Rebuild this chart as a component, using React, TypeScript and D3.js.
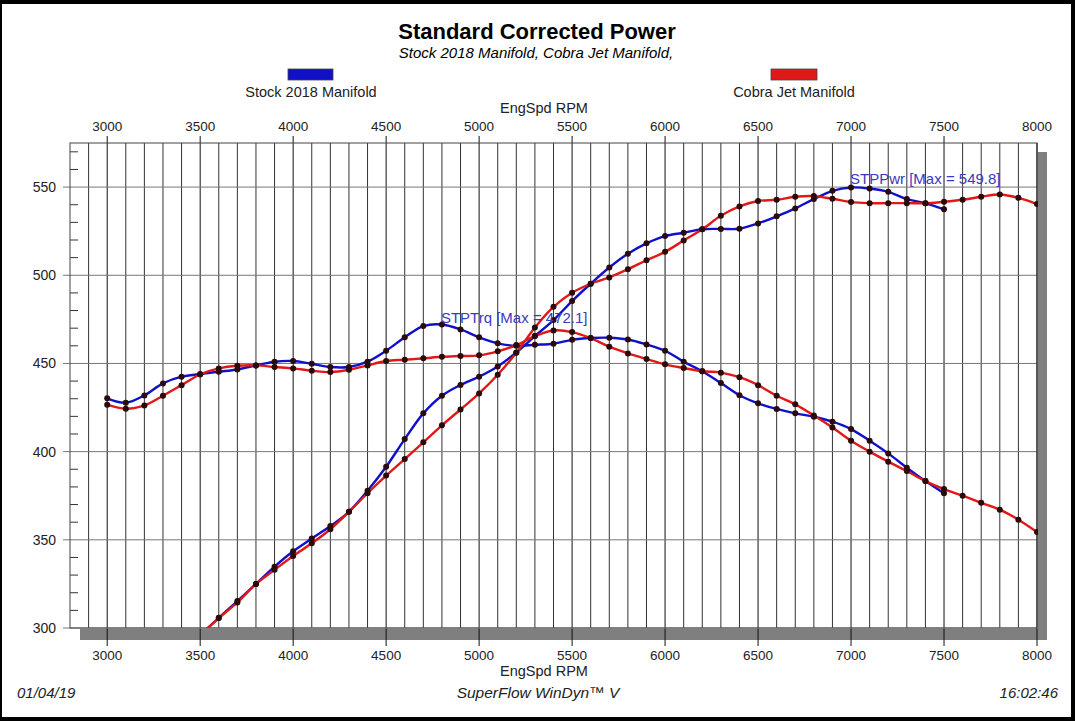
import React from "react";
import * as d3 from "d3";

const xTicks = [3000, 3500, 4000, 4500, 5000, 5500, 6000, 6500, 7000, 7500, 8000];
const yTicks = [300, 350, 400, 450, 500, 550];

const stockTorqueRpm = d3.range(3000, 7501, 100);
const stockTorque = [
  430.2, 427.7, 431.9, 438.7, 442.5, 444, 445.3, 446.6, 448.9, 451,
  451.4, 449.8, 448, 448, 451, 457.2, 464.8, 471.2, 472.1, 469.3,
  464.8, 461.4, 460, 460.6, 461.2, 463.4, 464.4, 464.6, 463.6, 460.8,
  457.2, 451, 445.6, 438.9, 432, 427.4, 424.2, 421.7, 419.8, 417,
  412.8, 406.2, 399, 390.9, 383.3, 376.4,
];
const cobraTorqueRpm = d3.range(3000, 8001, 100);
const cobraTorque = [
  426.6, 424.3, 426.2, 431.7, 437.7, 443.8, 447.2, 448.7, 448.9, 448,
  447.2, 445.9, 445.1, 446.4, 448.9, 451.4, 452.1, 452.9, 453.8, 454.2,
  454.6, 456.9, 460.4, 465.5, 468.7, 467.8, 464.4, 459.5, 455.7, 452.5,
  449.5, 447.4, 445.6, 444.8, 442.2, 437.7, 431.7, 426.8, 420.5, 413.7,
  406.2, 400, 394.3, 389, 383.3, 378.8, 375, 371, 367.1, 361.4, 354.4,
];
const stockPowerRpm = d3.range(3500, 7501, 100);
const stockPower = [
  296, 305.8, 315.3, 325, 334.8, 343.5, 350.7, 357.8, 365.9, 377.8,
  391.4, 407.1, 421.7, 431.7, 437.8, 442.5, 448.3, 456.2, 465.5, 474.6,
  485.4, 495.2, 504.4, 512.2, 518.1, 522.2, 524.1, 526.1, 526.3, 526.4,
  529.4, 533.4, 537.9, 543.2, 547.9, 549.8, 549.2, 547.3, 543.2, 540.8, 537.4,
];
const cobraPowerRpm = d3.range(3500, 8001, 100);
const cobraPower = [
  295.8, 305.6, 314.5, 325, 333, 340.8, 348, 356, 365.9, 376.4,
  386.4, 395.8, 405.3, 414.9, 423.9, 433, 443.6, 456, 470.4, 482.1,
  490.1, 495.2, 498.8, 503.4, 508.5, 513.3, 519.7, 526.1, 533.7, 539,
  542.1, 542.8, 544.5, 544.9, 543.4, 541.5, 540.9, 540.9, 540.9, 540.8,
  541.7, 542.8, 544.5, 545.8, 543.9, 540.4,
];

const STOCK = "#1010c8";
const COBRA = "#e01818";
const FONT = "'Liberation Sans', Arial, sans-serif";

const W = 1075, H = 721;
const L = 70, R = 1037, T = 143, B = 628;

export default function App() {
  const x = d3.scaleLinear().domain([2800, 8000]).range([L, R]);
  const y = d3.scaleLinear().domain([300, 575]).range([B, T]);

  const mk = (rpm: number[], v: number[]) => rpm.map((r, i) => [r, v[i]] as [number, number]);
  const series = [
    { pts: mk(stockTorqueRpm, stockTorque), color: STOCK },
    { pts: mk(stockPowerRpm, stockPower), color: STOCK },
    { pts: mk(cobraTorqueRpm, cobraTorque), color: COBRA },
    { pts: mk(cobraPowerRpm, cobraPower), color: COBRA },
  ];
  const line = d3
    .line<[number, number]>()
    .x((d) => x(d[0]))
    .y((d) => y(d[1]))
    .curve(d3.curveCatmullRom.alpha(0.5));

  const vGrid = d3.range(2900, 8000, 100);
  const minorY = d3.range(310, 575, 10).filter((v) => v % 50 !== 0);

  const tMaxIdx = stockTorque.indexOf(d3.max(stockTorque) as number);
  const pMaxIdx = stockPower.indexOf(d3.max(stockPower) as number);

  return (
    <div style={{ position: "fixed", left: 0, top: 0, width: W, height: H }}>
      <svg width={W} height={H} style={{ display: "block", fontFamily: FONT }}>
        <rect x={0} y={0} width={W} height={H} fill="#000" />
        <rect x={2} y={4} width={1069} height={713} fill="#fff" />

        <text x={537} y={39} textAnchor="middle" fontSize={22} fontWeight="bold" fill="#000">
          Standard Corrected Power
        </text>
        <text x={536} y={58} textAnchor="middle" fontSize={15} fontStyle="italic" fill="#000">
          Stock 2018 Manifold, Cobra Jet Manifold,
        </text>

        <rect x={288} y={69} width={45} height={11} fill={STOCK} stroke="#444" strokeWidth={0.8} />
        <text x={311} y={97} textAnchor="middle" fontSize={14.5} fill="#222">Stock 2018 Manifold</text>
        <rect x={771} y={69} width={46} height={11} fill={COBRA} stroke="#444" strokeWidth={0.8} />
        <text x={794} y={97} textAnchor="middle" fontSize={14.5} fill="#222">Cobra Jet Manifold</text>

        <text x={544} y={113} textAnchor="middle" fontSize={14.5} fill="#222">EngSpd RPM</text>

        {/* shadow */}
        <rect x={80} y={B + 1} width={R - 80 + 9} height={11} fill="#7f7f7f" />
        <rect x={R + 1} y={152} width={9} height={B - 152 + 12} fill="#7f7f7f" />

        {/* plot bg */}
        <rect x={L} y={T} width={R - L} height={B - T} fill="#fff" />

        {/* vertical grid */}
        {vGrid.map((v) => (
          <line
            key={"v" + v}
            x1={x(v)}
            x2={x(v)}
            y1={v % 500 === 0 ? T - 7 : T}
            y2={v % 500 === 0 ? B + 18 : B}
            stroke={v % 500 === 0 ? "#111" : "#333"}
            strokeWidth={1}
          />
        ))}
        {/* horizontal grid */}
        {yTicks.map((v) => (
          <line key={"h" + v} x1={L - 7} x2={R} y1={y(v)} y2={y(v)} stroke="#777" strokeWidth={1} />
        ))}
        {minorY.map((v) => (
          <line key={"m" + v} x1={L} x2={L + 8} y1={y(v)} y2={y(v)} stroke="#333" strokeWidth={1} />
        ))}
        {/* border */}
        <rect x={L} y={T} width={R - L} height={B - T} fill="none" stroke="#444" strokeWidth={1} />
        <line x1={R} x2={R} y1={T} y2={B + 18} stroke="#111" />

        {/* tick labels */}
        {xTicks.map((v) => (
          <g key={"xt" + v}>
            <text x={x(v)} y={131} textAnchor="middle" fontSize={13.5} fill="#222">{v}</text>
            <text x={x(v)} y={660} textAnchor="middle" fontSize={13.5} fill="#222">{v}</text>
          </g>
        ))}
        {yTicks.map((v) => (
          <text key={"yt" + v} x={56} y={y(v) + 5} textAnchor="end" fontSize={14} fill="#222">{v}</text>
        ))}
        <text x={544} y={676} textAnchor="middle" fontSize={14.5} fill="#222">EngSpd RPM</text>

        <defs>
          <clipPath id="plotClip">
            <rect x={L} y={T} width={R - L + 1} height={B - T} />
          </clipPath>
        </defs>
        <g clipPath="url(#plotClip)">
          {series.map((s, i) => (
            <path key={"l" + i} d={line(s.pts) || ""} fill="none" stroke={s.color} strokeWidth={2.4} />
          ))}
          {series.map((s, i) =>
            s.pts.map((p, j) => (
              <circle key={"c" + i + "-" + j} cx={x(p[0])} cy={y(p[1])} r={3} fill="#2a0a0a" />
            ))
          )}
        </g>

        <text
          x={x(stockTorqueRpm[tMaxIdx]) - 1}
          y={y(stockTorque[tMaxIdx]) - 1}
          fontSize={15}
          fill="#3a3ac0"
        >
          {`STPTrq [Max = ${stockTorque[tMaxIdx].toFixed(1)}]`}
        </text>
        <text
          x={x(stockPowerRpm[pMaxIdx]) - 1}
          y={y(stockPower[pMaxIdx]) - 3}
          fontSize={15}
          fill="#3a3ac0"
        >
          {`STPPwr [Max = ${stockPower[pMaxIdx].toFixed(1)}]`}
        </text>

        <text x={17} y={698} fontSize={15} fontStyle="italic" fill="#222">01/04/19</text>
        <text x={538} y={698} textAnchor="middle" fontSize={15.5} fontStyle="italic" fill="#222">
          SuperFlow WinDyn™ V
        </text>
        <text x={1058} y={698} textAnchor="end" fontSize={15} fontStyle="italic" fill="#222">16:02:46</text>
      </svg>
    </div>
  );
}
